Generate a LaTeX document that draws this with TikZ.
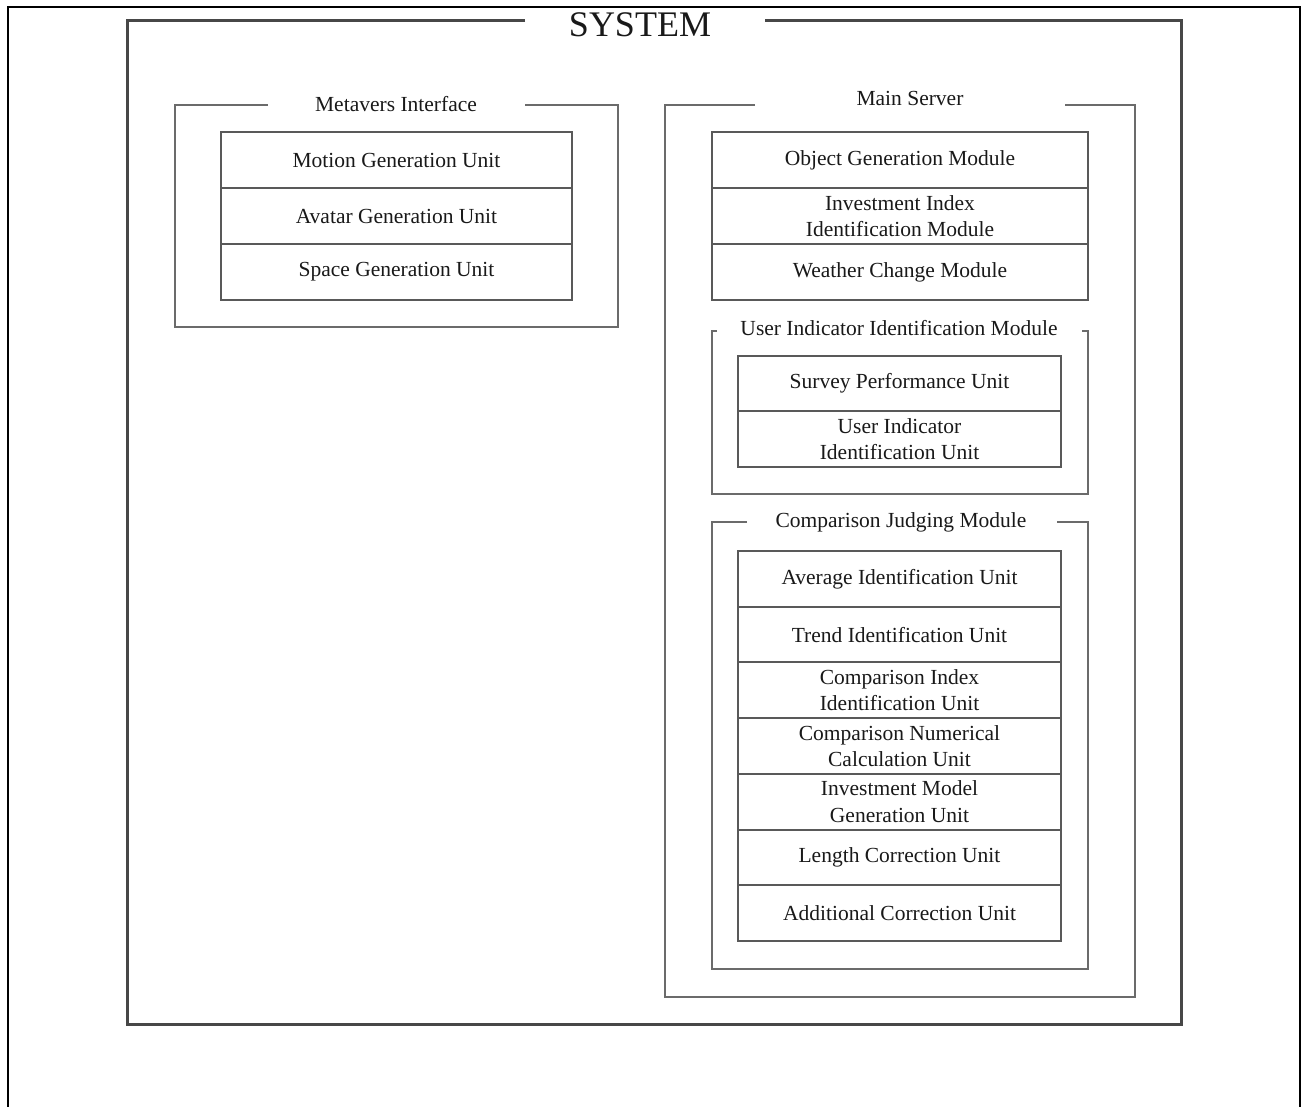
\documentclass[tikz,border=0pt]{standalone}
\usepackage{fontspec}
\setmainfont{Liberation Serif}
\begin{document}
\begin{tikzpicture}[x=1pt,y=-1pt,
  unit/.style={draw=black!65, line width=2pt, inner sep=0pt, align=center,
    font=\fontsize{21.5}{26.5}\selectfont, text=black!90},
  lunit/.style={unit, minimum width=351pt, minimum height=56pt},
  munit/.style={unit, minimum width=376pt, minimum height=56pt},
  sunit/.style={unit, minimum width=323pt, minimum height=55.7pt},
  frame/.style={draw=black!58, line width=2pt},
  sysframe/.style={draw=black!72, line width=3pt},
  ttl/.style={font=\fontsize{21.5}{25}\selectfont, text=black!90, inner sep=0pt}
]
\useasboundingbox (0,0) rectangle (1304,1107);
% page border
\draw[line width=2.5pt] (8,1107) -- (8,7) -- (1300,7) -- (1300,1107);

% SYSTEM
\node[font=\fontsize{36}{40}\selectfont, inner sep=0pt, text=black!90] (sys) at (640,25) {SYSTEM};
\draw[sysframe] (525,21) -- (127,21) -- (127,1024) -- (1181,1024) -- (1181,21) -- (765,21);

% Metavers Interface
\node[ttl] (mi) at (396,104) {Metavers Interface};
\draw[frame] (268,105) -- (175,105) -- (175,327) -- (618,327) -- (618,105) -- (525,105);
\node[lunit] (mgu) at (396.5,160) {Motion Generation Unit};
\node[lunit] (agu) at (396.5,216) {Avatar Generation Unit};
\node[lunit] (sgu) at (396.5,272) {Space Generation Unit};

% Main Server
\node[ttl] (ms) at (910,98) {Main Server};
\draw[frame] (755,105) -- (665,105) -- (665,997) -- (1135,997) -- (1135,105) -- (1065,105);
\node[munit] (ogm) at (900,160) {Object Generation Module};
\node[munit] (iim) at (900,216) {Investment Index\\Identification Module};
\node[munit] (wcm) at (900,272) {Weather Change Module};

% User Indicator Identification Module
\node[ttl] (uiim) at (899,328) {User Indicator Identification Module};
\draw[frame] (717,331) -- (712,331) -- (712,494) -- (1088,494) -- (1088,331) -- (1082,331);
\node[sunit] (spu) at (899.5,383.5) {Survey Performance Unit};
\node[sunit] (uiu) at (899.5,439.2) {User Indicator\\Identification Unit};

% Comparison Judging Module
\node[ttl] (cjm) at (901,522) {Comparison Judging Module};
\draw[frame] (747,522) -- (712,522) -- (712,969) -- (1088,969) -- (1088,522) -- (1057,522);
\node[sunit] (aiu) at (899.5,578.9) {Average Identification Unit};
\node[sunit] (tiu) at (899.5,634.6) {Trend Identification Unit};
\node[sunit] (ciu) at (899.5,690.3) {Comparison Index\\Identification Unit};
\node[sunit] (cnu) at (899.5,746.0) {Comparison Numerical\\Calculation Unit};
\node[sunit] (imu) at (899.5,801.7) {Investment Model\\Generation Unit};
\node[sunit] (lcu) at (899.5,857.4) {Length Correction Unit};
\node[sunit] (acu) at (899.5,913.1) {Additional Correction Unit};
\end{tikzpicture}
\end{document}
